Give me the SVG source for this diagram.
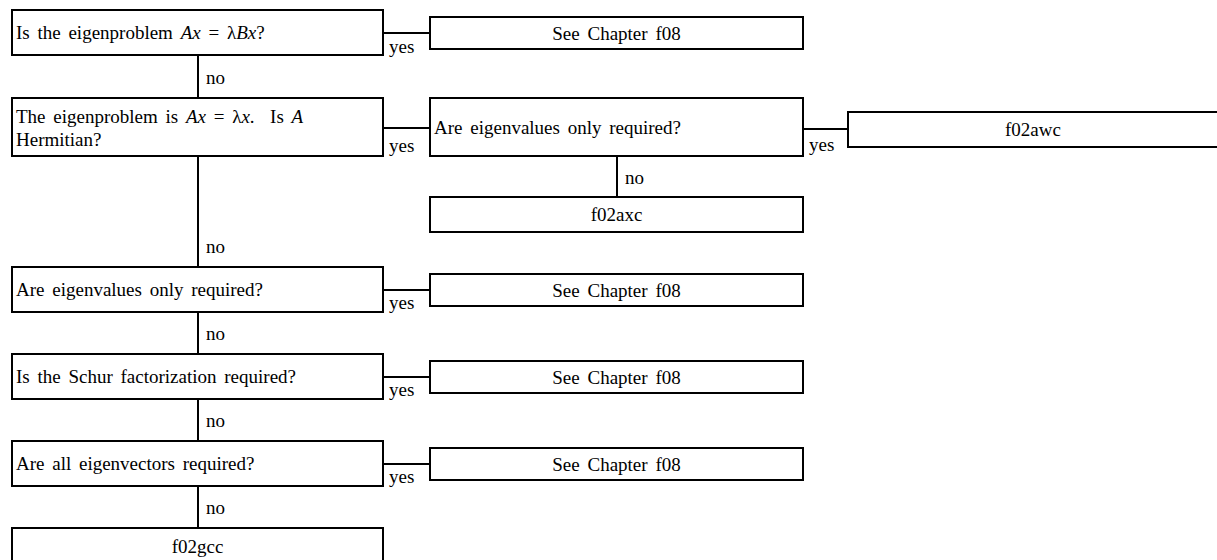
<svg xmlns="http://www.w3.org/2000/svg" width="1217" height="560" viewBox="0 0 1217 560">
<style>
rect{fill:none;stroke:#000;stroke-width:2}
line{stroke:#000;stroke-width:2}
text{font-family:"Liberation Serif","Times New Roman",serif;font-size:19px;word-spacing:3px;fill:#000}
.c{text-anchor:middle}
.i{font-style:italic}
</style>
<rect x="0" y="0" width="1217" height="560" style="fill:#fff;stroke:none"/>
<g id="connectors">
<line x1="198" y1="55" x2="198" y2="98"/>
<line x1="198" y1="156" x2="198" y2="267"/>
<line x1="198" y1="312" x2="198" y2="354"/>
<line x1="198" y1="399" x2="198" y2="441"/>
<line x1="198" y1="486" x2="198" y2="528"/>
<line x1="617" y1="156" x2="617" y2="197"/>
<line x1="383" y1="33" x2="430" y2="33"/>
<line x1="383" y1="128" x2="430" y2="128"/>
<line x1="803" y1="129" x2="848" y2="129"/>
<line x1="383" y1="290" x2="430" y2="290"/>
<line x1="383" y1="377" x2="430" y2="377"/>
<line x1="383" y1="464" x2="430" y2="464"/>
<text x="389" y="53">yes</text>
<text x="206" y="84">no</text>
<text x="389" y="152">yes</text>
<text x="809" y="151">yes</text>
<text x="625" y="184">no</text>
<text x="206" y="253">no</text>
<text x="389" y="309">yes</text>
<text x="206" y="340">no</text>
<text x="389" y="396">yes</text>
<text x="206" y="427">no</text>
<text x="389" y="483">yes</text>
<text x="206" y="514">no</text>
</g>
<g id="q1"><rect x="12" y="10" width="371" height="45"/><text x="16" y="39">Is the eigenproblem <tspan class="i">Ax</tspan> = λ<tspan class="i">Bx</tspan>?</text></g>
<g id="r1"><rect x="430" y="17" width="373" height="32"/><text class="c" x="616.5" y="40">See Chapter f08</text></g>
<g id="q2"><rect x="12" y="98" width="371" height="58"/><text x="16" y="123">The eigenproblem is <tspan class="i">Ax</tspan> = λ<tspan class="i">x</tspan>.&#160; Is <tspan class="i">A</tspan></text><text x="16" y="146">Hermitian?</text></g>
<g id="q3"><rect x="430" y="98" width="373" height="58"/><text x="434" y="134">Are eigenvalues only required?</text></g>
<g id="r2"><rect x="848" y="112" width="372" height="35"/><text class="c" x="1033" y="136">f02awc</text></g>
<g id="r3"><rect x="430" y="197" width="373" height="35"/><text class="c" x="616.5" y="221">f02axc</text></g>
<g id="q4"><rect x="12" y="267" width="371" height="45"/><text x="16" y="296">Are eigenvalues only required?</text></g>
<g id="r4"><rect x="430" y="274" width="373" height="32"/><text class="c" x="616.5" y="297">See Chapter f08</text></g>
<g id="q5"><rect x="12" y="354" width="371" height="45"/><text x="16" y="383">Is the Schur factorization required?</text></g>
<g id="r5"><rect x="430" y="361" width="373" height="32"/><text class="c" x="616.5" y="384">See Chapter f08</text></g>
<g id="q6"><rect x="12" y="441" width="371" height="45"/><text x="16" y="470">Are all eigenvectors required?</text></g>
<g id="r6"><rect x="430" y="448" width="373" height="32"/><text class="c" x="616.5" y="471">See Chapter f08</text></g>
<g id="r7"><rect x="12" y="528" width="371" height="35"/><text class="c" x="197.5" y="553">f02gcc</text></g>
</svg>
